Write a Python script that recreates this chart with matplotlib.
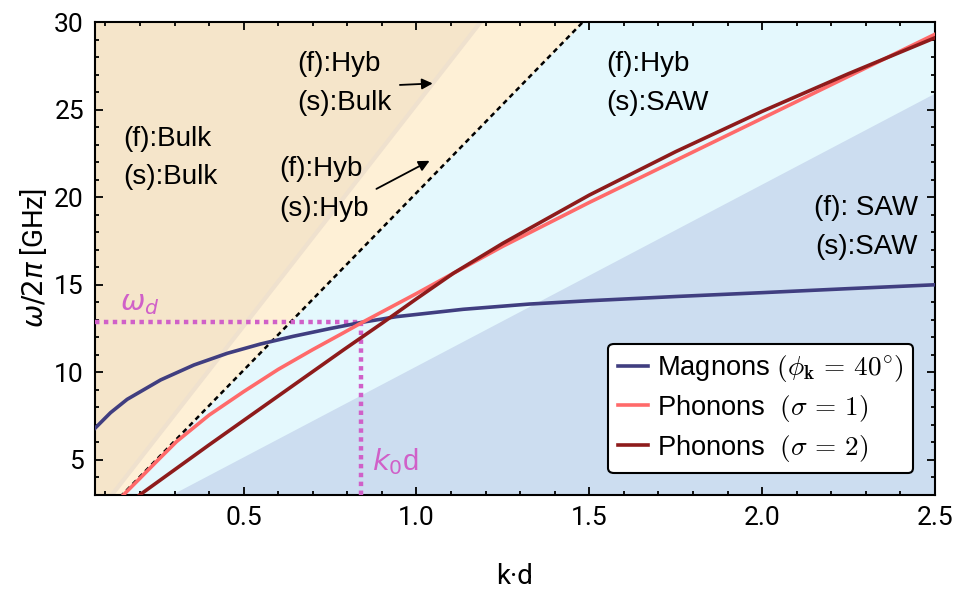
import numpy as np
import matplotlib
matplotlib.use("Agg")
import matplotlib.pyplot as plt

# ---- data ----
mag_k = [0.07, 0.115, 0.163, 0.26, 0.356, 0.453, 0.549, 0.644, 0.75, 0.84, 0.942,
         1.135, 1.327, 1.5, 1.75, 2.0, 2.25, 2.5]
mag_w = [6.81, 7.70, 8.46, 9.57, 10.42, 11.09, 11.62, 12.06, 12.5, 12.85, 13.18,
         13.6, 13.9, 14.09, 14.33, 14.55, 14.78, 15.0]

ph1_k = [0.152, 0.2, 0.25, 0.306, 0.4, 0.5, 0.6, 0.7, 0.788, 0.84, 1.0, 1.107,
         1.25, 1.5, 1.75, 2.0, 2.25, 2.5]
ph1_w = [3.0, 3.95, 4.95, 6.05, 7.56, 8.9, 10.17, 11.3, 12.25, 12.82, 14.5, 15.66,
         17.2, 19.7, 22.1, 24.5, 26.9, 29.3]

ph2_k = [0.199, 0.4, 0.6, 0.79, 0.9, 1.0, 1.107, 1.25, 1.5, 1.75, 2.0, 2.25, 2.5]
ph2_w = [3.0, 5.86, 8.65, 11.3, 12.8, 14.2, 15.66, 17.37, 20.12, 22.6, 24.9, 27.05, 29.1]

# slopes of the region borders (GHz per unit k*d)
slope_bulk = 25.3    # tan / cream
slope_light = 20.25  # cream / cyan (dotted)
slope_saw = 10.38    # cyan / blue

k0d = 0.84
omega_d = 12.85

xmin, xmax, ymin, ymax = 0.07, 2.5, 3, 30

# ---- fonts ----
tick_font = "Roboto"
text_font = "Liberation Sans"
plt.rcParams["mathtext.fontset"] = "cm"

fig = plt.figure(figsize=(9.6, 6), dpi=100)
ax = fig.add_axes([95 / 960, 1 - 495 / 600, 840 / 960, 473 / 600])

x = np.linspace(xmin, xmax, 500)
ax.fill_between(x, ymin, ymax, color="#F5E5CA", lw=0, zorder=0)
ax.fill_between(x, ymin, np.minimum(slope_bulk * x, ymax), color="#FEF0D6", lw=0, zorder=0)
ax.fill_between(x, ymin, np.minimum(slope_light * x, ymax), color="#E4F8FD", lw=0, zorder=0)
ax.fill_between(x, ymin, np.minimum(slope_saw * x, ymax), color="#CCDDF0", lw=0, zorder=0)
ax.plot(x, slope_bulk * x, color="#EFE1CE", lw=3, zorder=1)
ax.plot(x, slope_light * x, color="black", lw=1.8, ls=(0, (2, 1.6)), zorder=2)

# markers for omega_d and k0 d
ax.plot([xmin, k0d], [omega_d, omega_d], color="#D060C8", lw=3.2, ls=(0, (1, 1)), zorder=3)
ax.plot([k0d, k0d], [ymin, omega_d], color="#D060C8", lw=3.2, ls=(0, (1, 1)), zorder=3)

ax.plot(mag_k, mag_w, color="#403E80", lw=2.6, label=r"Magnons $(\phi_{\mathbf{k}} \,=\, 40^{\circ})$", zorder=4)
ax.plot(ph1_k, ph1_w, color="#FF6A6A", lw=2.6, label=r"Phonons  $(\sigma \,=\, 1)$", zorder=4)
ax.plot(ph2_k, ph2_w, color="#8E1B1B", lw=2.6, label=r"Phonons  $(\sigma \,=\, 2)$", zorder=5)

ax.set_xlim(xmin, xmax)
ax.set_ylim(ymin, ymax)
ax.set_xticks([0.5, 1.0, 1.5, 2.0, 2.5])
ax.set_yticks([5, 10, 15, 20, 25, 30])
ax.set_xticks(np.arange(0.1, 2.51, 0.1), minor=True)
ax.set_yticks(np.arange(3, 30.1, 1), minor=True)
ax.tick_params(which="both", direction="in", top=True, right=True, width=1.3)
ax.tick_params(which="major", length=6, labelsize=19, pad=8)
ax.tick_params(which="minor", length=3)
for lab in ax.get_xticklabels() + ax.get_yticklabels():
    lab.set_fontfamily(tick_font)
for s in ax.spines.values():
    s.set_linewidth(1.5)

ax.set_xlabel("k·d", fontsize=20, family=tick_font, labelpad=24)
ax.set_ylabel(r"$\omega/2\pi$ [GHz]", fontsize=20, family=tick_font, labelpad=4,
              math_fontfamily="dejavusans")

# region labels
fs = 20
def label(xp, yp, s, ha="left"):
    ax.text(xp, yp, s, fontsize=fs, family=text_font, ha=ha, va="center", zorder=6)

label(0.152, 23.3, "(f):Bulk")
label(0.152, 21.15, "(s):Bulk")
label(0.655, 27.6, "(f):Hyb")
label(0.655, 25.4, "(s):Bulk")
label(0.604, 21.6, "(f):Hyb")
label(0.604, 19.35, "(s):Hyb")
label(1.548, 27.6, "(f):Hyb")
label(1.548, 25.4, "(s):SAW")
label(2.45, 19.4, "(f): SAW", ha="right")
label(2.45, 17.15, "(s):SAW", ha="right")

arrow = dict(arrowstyle="-|>", color="black", lw=1.3, mutation_scale=16)
ax.annotate("", xy=(1.055, 26.5), xytext=(0.944, 26.4), arrowprops=arrow, zorder=6)
ax.annotate("", xy=(1.045, 22.15), xytext=(0.877, 20.4), arrowprops=arrow, zorder=6)

ax.text(0.142, 13.95, r"$\omega_d$", fontsize=21, color="#D060C8", va="center",
        math_fontfamily="dejavusans", zorder=6)
ax.text(0.871, 4.9, r"$k_0$d", fontsize=21, color="#D060C8", va="center",
        family=text_font, math_fontfamily="dejavusans", zorder=6)

leg = ax.legend(loc="lower right", fontsize=19.6, handlelength=1.1, handletextpad=0.35,
                borderaxespad=0.8, labelspacing=0.32, fancybox=True, framealpha=1,
                borderpad=0.35)
leg.get_frame().set_edgecolor("black")
leg.get_frame().set_linewidth(1.5)
for t in leg.get_texts():
    t.set_fontfamily(text_font)
    t.set_math_fontfamily("cm")

fig.savefig("out.png", dpi=100)
